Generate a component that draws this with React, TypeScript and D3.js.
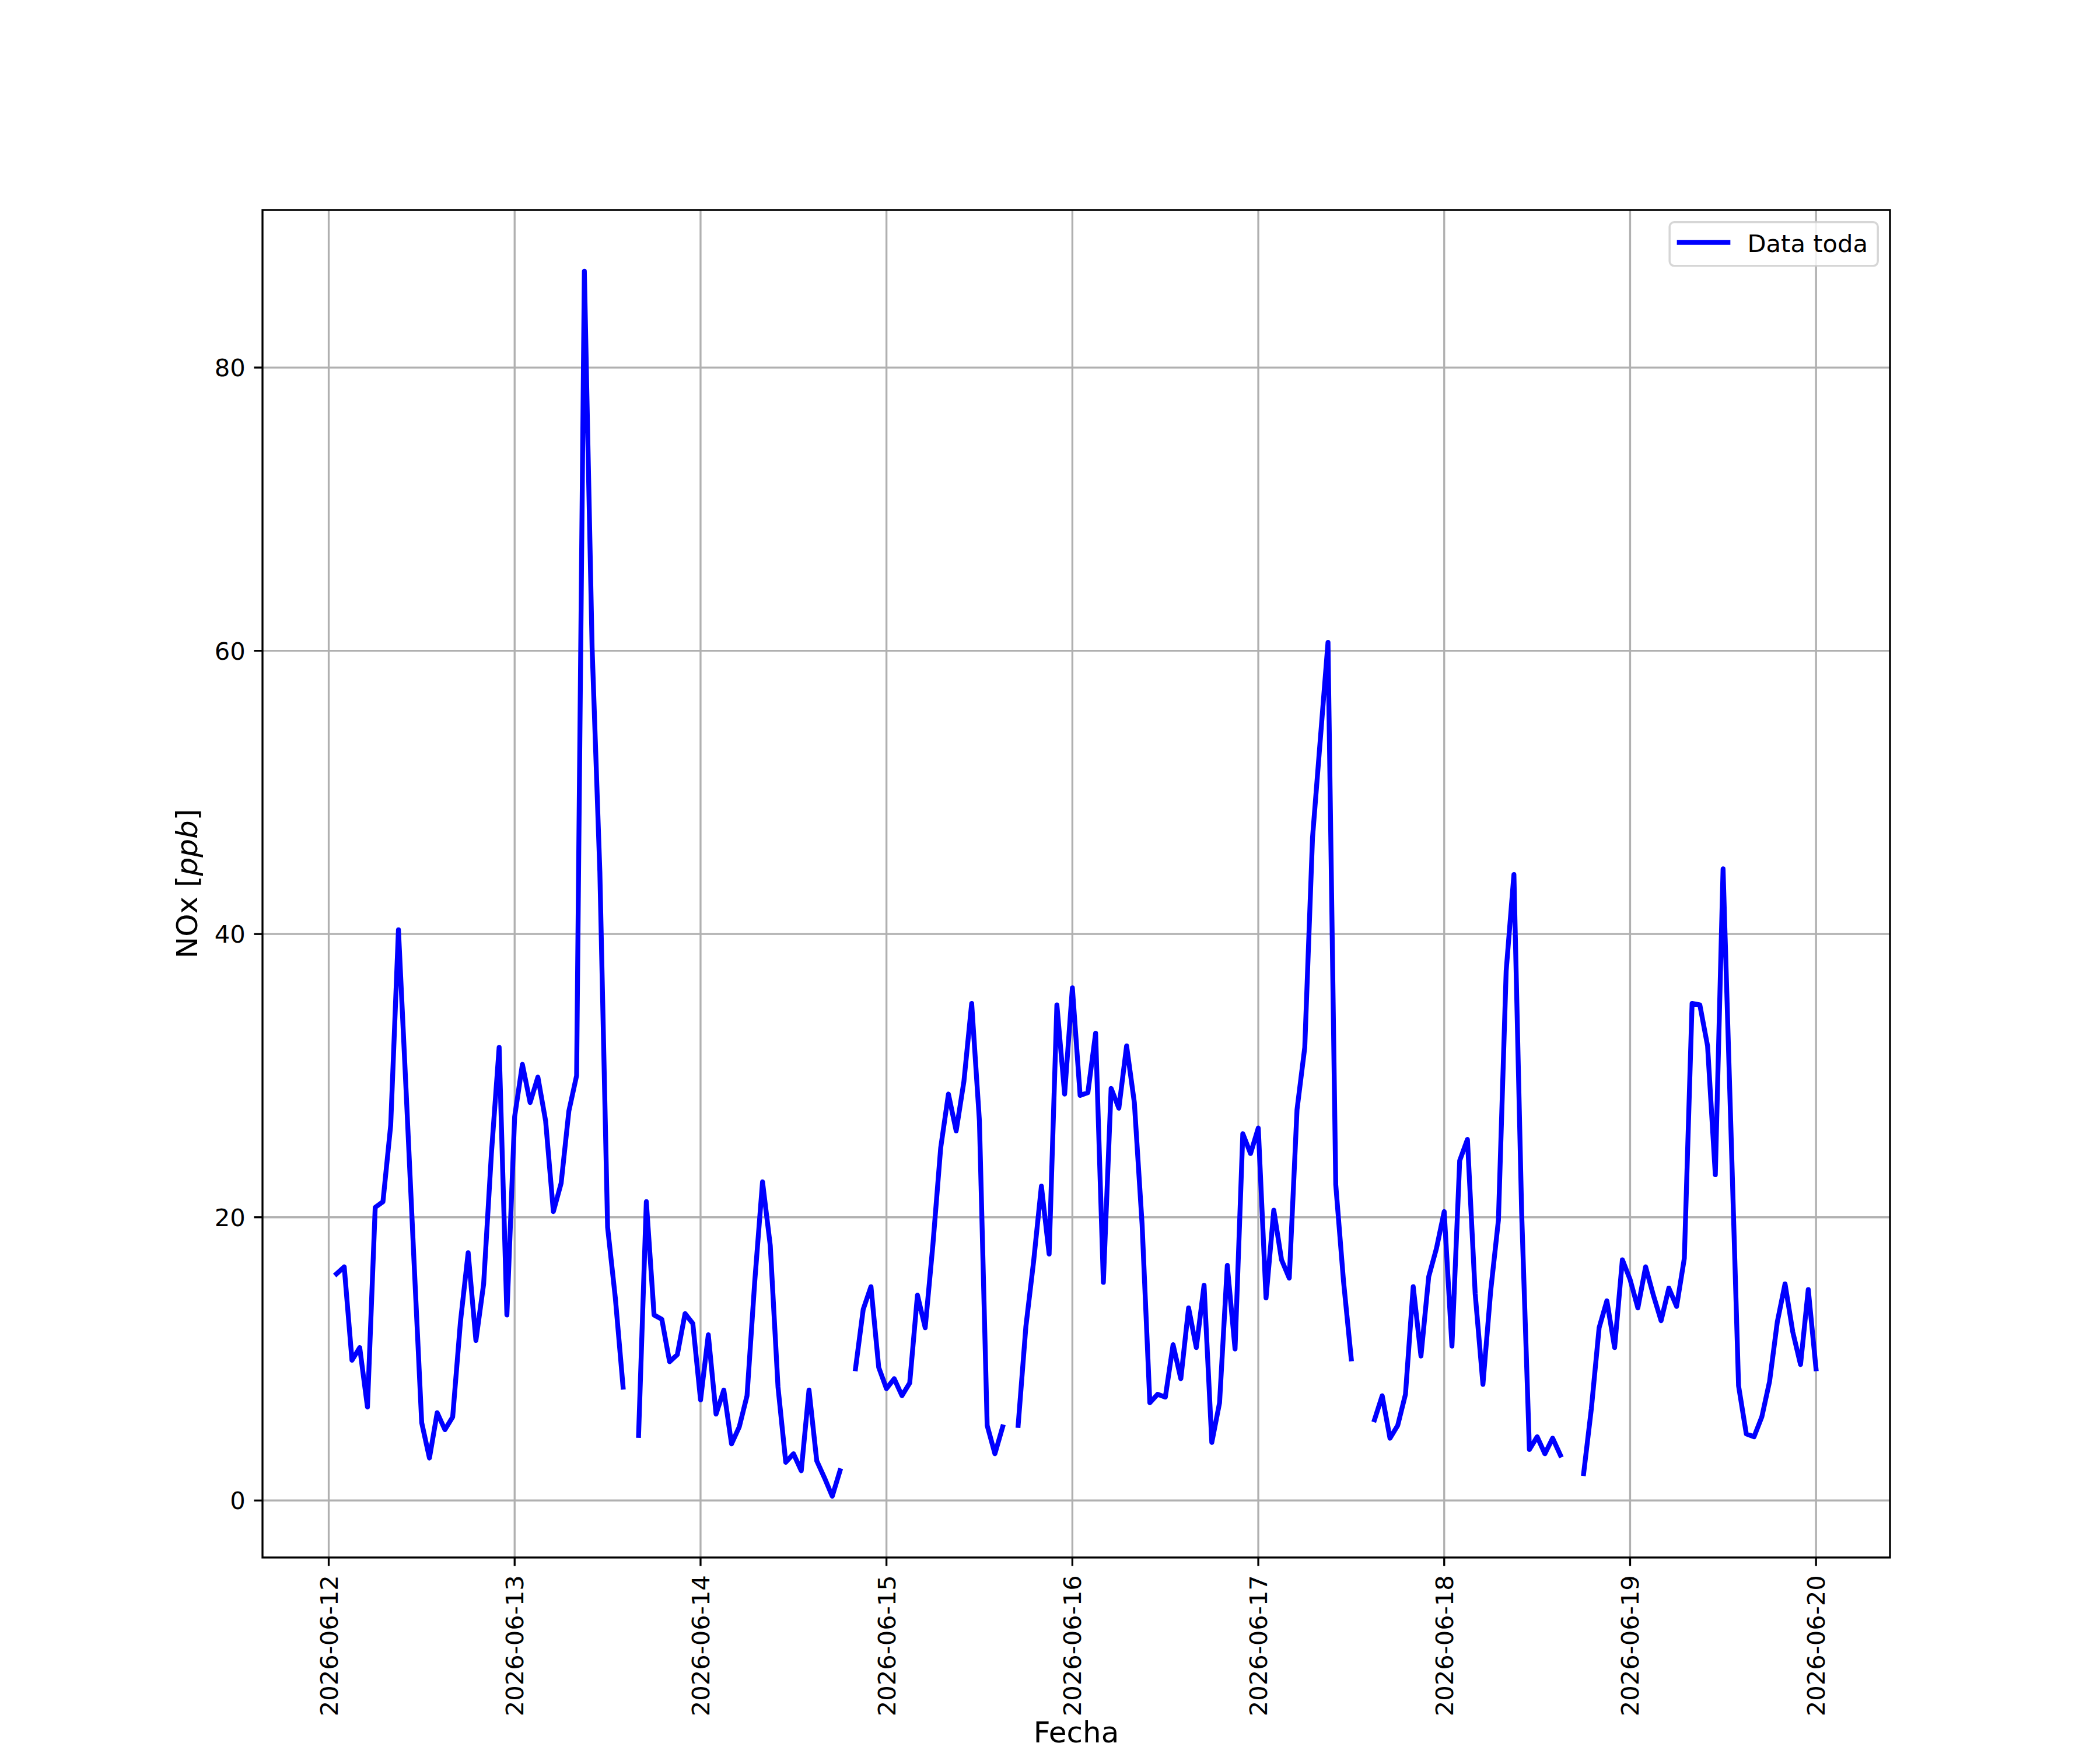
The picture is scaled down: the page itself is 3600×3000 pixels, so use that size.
import {useEffect, useRef} from "react";
import * as d3 from "d3";

// hourly NOx readings (ppb), null = missing hour
const jun12 = [16.0, 16.5, 9.9, 10.8, 6.6, 20.7, 21.1, 26.5, 40.3, 28.8, 17.0, 5.5, 3.0, 6.2, 5.0, 5.9, 12.6, 17.5, 11.3, 15.3, 24.5, 32.0, 13.1]; // from 01:00
const jun13 = [27.1, 30.8, 28.1, 29.9, 26.8, 20.4, 22.4, 27.5, 30.0, 86.8, 60.2, 44.4, 19.3, 14.3, 8.0, null, 4.6, 21.1, 13.1, 12.8, 9.8, 10.3, 13.2, 12.5];
const jun14 = [7.1, 11.7, 6.1, 7.8, 4.0, 5.2, 7.4, 15.5, 22.5, 18.0, 8.0, 2.7, 3.3, 2.1, 7.8, 2.8, 1.6, 0.3, 2.1, null, 9.3, 13.5, 15.1, 9.4];
const jun15 = [7.9, 8.6, 7.4, 8.3, 14.5, 12.2, 18.1, 24.9, 28.7, 26.1, 29.6, 35.1, 26.8, 5.3, 3.3, 5.2, null, 5.3, 12.3, 16.9, 22.2, 17.4, 35.0, 28.7];
const jun16 = [36.2, 28.6, 28.8, 33.0, 15.4, 29.1, 27.7, 32.1, 28.1, 19.5, 6.9, 7.5, 7.3, 11.0, 8.6, 13.6, 10.8, 15.2, 4.1, 6.9, 16.6, 10.7, 25.9, 24.5];
const jun17 = [26.3, 14.3, 20.5, 17.0, 15.7, 27.6, 32.0, 46.8, 53.7, 60.6, 22.3, 15.5, 10.0, null, null, 5.7, 7.4, 4.4, 5.3, 7.5, 15.1, 10.2, 15.8, 17.8];
const jun18 = [20.4, 10.9, 24.0, 25.5, 14.6, 8.2, 14.8, 19.8, 37.4, 44.2, 20.3, 3.6, 4.5, 3.3, 4.4, 3.2, null, null, 1.9, 6.5, 12.2, 14.1, 10.8, 17.0];
const jun19 = [15.6, 13.6, 16.5, 14.5, 12.7, 15.0, 13.7, 17.1, 35.1, 35.0, 32.1, 23.0, 44.6, 26.5, 8.1, 4.7, 4.5, 5.9, 8.4, 12.6, 15.3, 11.9, 9.6, 14.9];
const jun20 = [9.3]; // 00:00

const days = [
    {date: "2026-06-12", first: 1, values: jun12},
    {date: "2026-06-13", first: 0, values: jun13},
    {date: "2026-06-14", first: 0, values: jun14},
    {date: "2026-06-15", first: 0, values: jun15},
    {date: "2026-06-16", first: 0, values: jun16},
    {date: "2026-06-17", first: 0, values: jun17},
    {date: "2026-06-18", first: 0, values: jun18},
    {date: "2026-06-19", first: 0, values: jun19},
    {date: "2026-06-20", first: 0, values: jun20},
];

const seriesName = "Data toda";
const xLabel = "Fecha";

type P = { t: Date; v: number | null };

const points: P[] = days.flatMap(({date, first, values}) =>
    values.map((v, i) => ({
        t: new Date(Date.parse(date + "T00:00:00Z") + (first + i) * 3600e3),
        v,
    }))
);

const W = 3600, H = 3000;
const PT = 300 / 72;
const FONT = "DejaVu Sans";
const FS = 10 * PT;
const left = 0.125 * W, right = 0.9 * W, top = 0.12 * H, bottom = 0.89 * H;

// matplotlib-like 5% margins
function padded(ext: [number, number]): [number, number] {
    const r = ext[1] - ext[0];
    return [ext[0] - 0.05 * r, ext[1] + 0.05 * r];
}

const App = () => {
    const ref = useRef(null);

    useEffect(() => {
        const svg = d3.select(ref.current).attr("width", W).attr("height", H);
        svg.selectAll("*").remove();

        const tExt = d3.extent(points, (d) => +d.t) as [number, number];
        const vals = points.filter((d) => d.v != null).map((d) => d.v as number);
        const vExt = d3.extent(vals) as [number, number];

        const tPad = padded(tExt);
        const x = d3.scaleUtc()
            .domain([new Date(tPad[0]), new Date(tPad[1])])
            .range([left, right]);
        const y = d3.scaleLinear().domain(padded(vExt)).range([bottom, top]);

        svg.append("rect").attr("width", W).attr("height", H).attr("fill", "white");

        const xTicks = x.ticks(d3.utcDay.every(1));
        const yTicks = y.ticks(5);
        const fmt = d3.utcFormat("%Y-%m-%d");

        // grid
        const grid = svg.append("g").attr("stroke", "#b0b0b0").attr("stroke-width", 0.8 * PT);
        grid.selectAll(".gx").data(xTicks).enter().append("line")
            .attr("x1", (d) => x(d)).attr("x2", (d) => x(d))
            .attr("y1", top).attr("y2", bottom);
        grid.selectAll(".gy").data(yTicks).enter().append("line")
            .attr("x1", left).attr("x2", right)
            .attr("y1", (d) => y(d)).attr("y2", (d) => y(d));

        // data line
        const line = d3.line<P>()
            .defined((d) => d.v != null)
            .x((d) => x(d.t))
            .y((d) => y(d.v as number));

        svg.append("path")
            .datum(points)
            .attr("d", line)
            .attr("fill", "none")
            .attr("stroke", "#0000ff")
            .attr("stroke-width", 2 * PT)
            .attr("stroke-linejoin", "round")
            .attr("stroke-linecap", "square");

        // spines
        svg.append("rect")
            .attr("x", left).attr("y", top)
            .attr("width", right - left).attr("height", bottom - top)
            .attr("fill", "none").attr("stroke", "black").attr("stroke-width", 0.8 * PT);

        const tickLen = 3.5 * PT, tickPad = 3.5 * PT;

        // x ticks + labels
        const gx = svg.append("g");
        gx.selectAll("line").data(xTicks).enter().append("line")
            .attr("x1", (d) => x(d)).attr("x2", (d) => x(d))
            .attr("y1", bottom).attr("y2", bottom + tickLen)
            .attr("stroke", "black").attr("stroke-width", 0.8 * PT);
        gx.selectAll("text").data(xTicks).enter().append("text")
            .attr("transform", (d) => `translate(${x(d) + 15},${bottom + tickLen + tickPad + 1}) rotate(-90)`)
            .attr("text-anchor", "end")
            .attr("font-family", FONT).attr("font-size", FS)
            .text((d) => fmt(d));

        // y ticks + labels
        const gy = svg.append("g");
        gy.selectAll("line").data(yTicks).enter().append("line")
            .attr("x1", left - tickLen).attr("x2", left)
            .attr("y1", (d) => y(d)).attr("y2", (d) => y(d))
            .attr("stroke", "black").attr("stroke-width", 0.8 * PT);
        gy.selectAll("text").data(yTicks).enter().append("text")
            .attr("x", left - tickLen - tickPad)
            .attr("y", (d) => y(d) + 15.2)
            .attr("text-anchor", "end")
            .attr("font-family", FONT).attr("font-size", FS)
            .text((d) => String(d));

        // axis labels
        svg.append("text")
            .attr("x", (left + right) / 2).attr("y", 2987)
            .attr("text-anchor", "middle")
            .attr("font-family", FONT).attr("font-size", 12 * PT)
            .text(xLabel);

        const yl = svg.append("text")
            .attr("transform", `translate(338,${(top + bottom) / 2}) rotate(-90)`)
            .attr("text-anchor", "middle")
            .attr("font-family", FONT).attr("font-size", 12 * PT);
        yl.append("tspan").text("NOx [");
        yl.append("tspan").attr("font-style", "italic").text("ppb");
        yl.append("tspan").text("]");

        // legend
        const pad = 0.5 * FS;
        const lg = svg.append("g");
        const boxW = 357, boxH = 75;
        const bx = right - pad - boxW, by = top + pad;
        lg.append("rect")
            .attr("x", bx).attr("y", by).attr("width", boxW).attr("height", boxH)
            .attr("rx", 8).attr("ry", 8)
            .attr("fill", "white").attr("fill-opacity", 0.8)
            .attr("stroke", "#cccccc").attr("stroke-opacity", 0.8).attr("stroke-width", 3.5);
        const ly = by + 34.7;
        lg.append("line")
            .attr("x1", bx + 0.4 * FS).attr("x2", bx + 0.4 * FS + 2 * FS)
            .attr("y1", ly).attr("y2", ly)
            .attr("stroke", "#0000ff").attr("stroke-width", 2 * PT).attr("stroke-linecap", "square");
        lg.append("text")
            .attr("x", bx + 0.4 * FS + 2.8 * FS).attr("y", by + 50.7)
            .attr("font-family", FONT).attr("font-size", FS)
            .text(seriesName);
    }, []);

    return (
        <div style={{position: "absolute", left: 0, top: 0}}>
            <svg ref={ref}></svg>
        </div>
    );
};

export default App;
